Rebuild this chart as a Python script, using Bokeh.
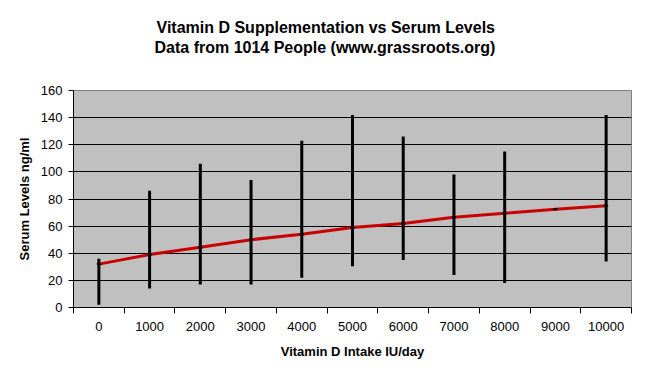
from bokeh.plotting import figure
from bokeh.models import Range1d, FixedTicker, Title, ColumnDataSource
from bokeh.embed import file_html
from bokeh.resources import INLINE

# ---- data ----
intake_labels = ["0", "1000", "2000", "3000", "4000", "5000",
                 "6000", "7000", "8000", "9000", "10000"]
serum_high = [36, 86, 106, 94, 123, 142, 126, 98, 115, None, 142]
serum_low = [2, 14, 17, 17, 22, 30.5, 35, 24, 18, None, 34]
trend_values = [32, 39, 44.5, 50, 54, 59, 62, 66.5, 69.5, 72.5, 75]
y_tick_values = [0, 20, 40, 60, 80, 100, 120, 140, 160]

title_line1 = "Vitamin D Supplementation vs Serum Levels"
title_line2 = "Data from 1014 People (www.grassroots.org)"

FONT = "Liberation Sans"

W, H = 635, 363
BL, BR, BT, BB = 73, 4, 90, 56

pos = list(range(len(intake_labels)))
x_lo, x_hi = -0.5, len(intake_labels) - 0.5
y_lo, y_hi = 0, 160

bar_x = [i for i in pos if serum_high[i] is not None]
bars = ColumnDataSource(dict(
    x=bar_x,
    low=[serum_low[i] for i in bar_x],
    high=[serum_high[i] for i in bar_x],
))
trend = ColumnDataSource(dict(x=pos, y=trend_values))

p = figure(width=W, height=H,
           x_range=Range1d(x_lo, x_hi), y_range=Range1d(y_lo, y_hi),
           output_backend="svg", toolbar_location=None, title=None,
           min_border_left=BL, min_border_right=BR,
           min_border_top=BT, min_border_bottom=BB)
p.background_fill_color = "#C0C0C0"
p.border_fill_color = "white"
p.outline_line_color = "#808080"
p.outline_line_width = 1

# spacer between the plot area and the two title lines
spacer = Title(text=" ", align="left", text_font=FONT, text_font_size="16px",
               standoff=16)
# two-line title (left-aligned lines of nearly equal width, centred on chart)
t2 = Title(text=title_line2, align="left", offset=81,
           text_font=FONT, text_font_size="16px", text_font_style="bold",
           text_color="black", standoff=0)
t1 = Title(text=title_line1, align="left", offset=83,
           text_font=FONT, text_font_size="16px", text_font_style="bold",
           text_color="black", standoff=1)
p.add_layout(spacer, "above")
p.add_layout(t2, "above")
p.add_layout(t1, "above")

# x axis (category style: labels at centers, ticks at boundaries)
xa = p.xaxis[0]
xa.ticker = FixedTicker(ticks=pos, minor_ticks=[i - 0.5 for i in range(len(pos) + 1)])
xa.major_label_overrides = {i: lab for i, lab in enumerate(intake_labels)}
xa.major_tick_out = 0
xa.major_tick_in = 0
xa.minor_tick_out = 6
xa.minor_tick_in = 0
xa.minor_tick_line_color = "black"
xa.axis_line_color = "black"
xa.major_label_text_font = FONT
xa.major_label_text_font_size = "13px"
xa.major_label_text_color = "black"
xa.major_label_standoff = 8
xa.axis_label = "Vitamin D Intake IU/day"
xa.axis_label_text_font = FONT
xa.axis_label_text_font_size = "13px"
xa.axis_label_text_font_style = "bold"
xa.axis_label_text_color = "black"
xa.axis_label_standoff = 10

ya = p.yaxis[0]
ya.ticker = FixedTicker(ticks=y_tick_values, minor_ticks=[])
ya.major_tick_out = 5
ya.major_tick_in = 0
ya.major_tick_line_color = "black"
ya.axis_line_color = "black"
ya.major_label_text_font = FONT
ya.major_label_text_font_size = "13px"
ya.major_label_text_color = "black"
ya.major_label_standoff = 6
ya.axis_label = "Serum Levels ng/ml"
ya.axis_label_text_font = FONT
ya.axis_label_text_font_size = "13px"
ya.axis_label_text_font_style = "bold"
ya.axis_label_text_color = "black"
ya.axis_label_standoff = 6

p.xgrid.visible = False
p.ygrid.ticker = FixedTicker(ticks=y_tick_values[1:-1])
p.ygrid.grid_line_color = "black"
p.ygrid.grid_line_width = 1

# trend line, range bars, close ticks
p.line("x", "y", source=trend, line_color="#C80000", line_width=3)
p.segment(x0="x", y0="low", x1="x", y1="high", source=bars,
          line_color="black", line_width=3)
p.scatter("x", "y", source=trend, marker="dash", size=4,
          line_color="black", line_width=2)

open("out.html", "w").write(file_html(p, INLINE))
